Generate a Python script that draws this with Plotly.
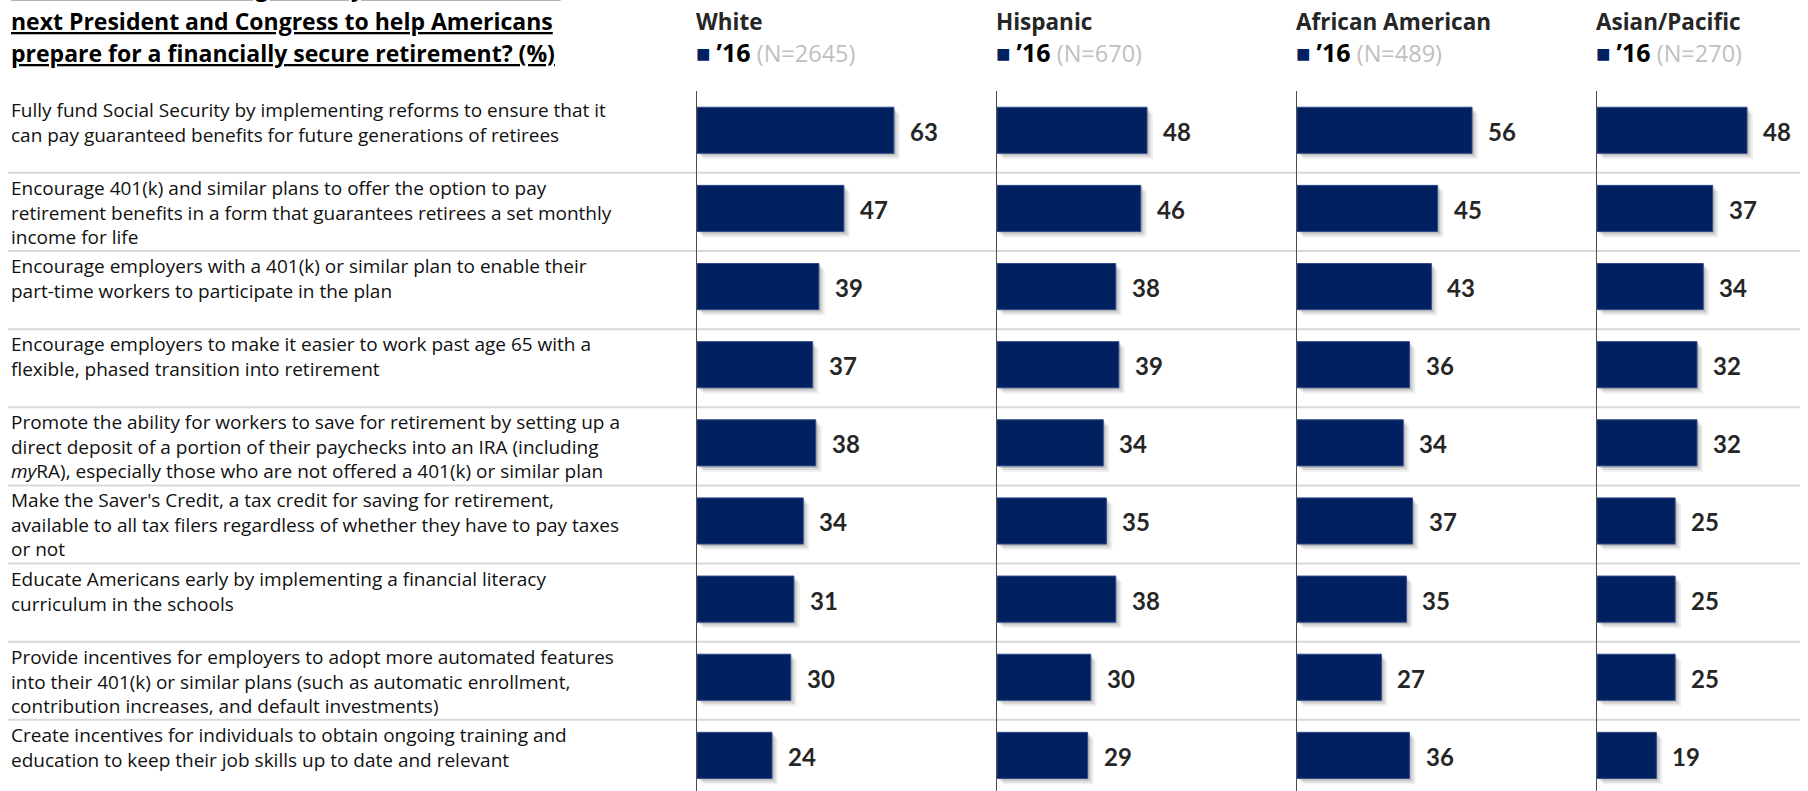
# ============================================================
# Retirement policy priorities by race/ethnicity - Plotly remake
# ============================================================

import plotly.graph_objects as go


# ============================================================
# Data
# ============================================================

categories = [
    "Fully fund Social Security by implementing reforms to ensure that it<br>"
    "can pay guaranteed benefits for future generations of retirees",
    "Encourage 401(k) and similar plans to offer the option to pay<br>"
    "retirement benefits in a form that guarantees retirees a set monthly<br>"
    "income for life",
    "Encourage employers with a 401(k) or similar plan to enable their<br>"
    "part-time workers to participate in the plan",
    "Encourage employers to make it easier to work past age 65 with a<br>"
    "flexible, phased transition into retirement",
    "Promote the ability for workers to save for retirement by setting up a<br>"
    "direct deposit of a portion of their paychecks into an IRA (including<br>"
    "<i>my</i>RA), especially those who are not offered a 401(k) or similar plan",
    "Make the Saver's Credit, a tax credit for saving for retirement,<br>"
    "available to all tax filers regardless of whether they have to pay taxes<br>"
    "or not",
    "Educate Americans early by implementing a financial literacy<br>"
    "curriculum in the schools",
    "Provide incentives for employers to adopt more automated features<br>"
    "into their 401(k) or similar plans (such as automatic enrollment,<br>"
    "contribution increases, and default investments)",
    "Create incentives for individuals to obtain ongoing training and<br>"
    "education to keep their job skills up to date and relevant",
]

groups = ["White", "Hispanic", "African American", "Asian/Pacific"]
sample_sizes = ["N=2645", "N=670", "N=489", "N=270"]
year_label = "\u201916"

white = [63, 47, 39, 37, 38, 34, 31, 30, 24]
hispanic = [48, 46, 38, 39, 34, 35, 38, 30, 29]
african_american = [56, 45, 43, 36, 34, 37, 35, 27, 36]
asian_pacific = [48, 37, 34, 32, 32, 25, 25, 25, 19]

# first line is cut by the top edge in the original slide
title_lines = [
    "Which of the following would you like to see the",
    "next President and Congress to help Americans",
    "prepare for a financially secure retirement? (%)",
]


# ============================================================
# Layout constants (pixels of the 1808x791 window)
# ============================================================

W, H = 1808, 791

FONT = "'Open Sans', Lato, Arial, sans-serif"
NUM_FONT = "Lato, 'Open Sans', Arial, sans-serif"
NAVY = "#002060"
TEXT = "#262626"

PX_PER_UNIT = 3.125          # bar length scale, identical in every panel
ROW_PX = 78.14               # row pitch
PANEL_X0 = [697, 997, 1297, 1597]
PANEL_RANGE = [90, 90, 90, 64]
AXIS_TOP = 91.2
BAR_WIDTH = 0.59
TITLE_LINE_Y = [-13, 21, 53]


def px_x(x):
    return x / W


def px_y(y):
    return 1 - y / H


series = [white, hispanic, african_american, asian_pacific]

fig = go.Figure()

# y range: row -0.5 sits at AXIS_TOP, window bottom cuts the last row
y_bottom = -0.5 + (H - AXIS_TOP) / ROW_PX
y_domain = [0, px_y(AXIS_TOP)]

for k, values in enumerate(series):
    suffix = "" if k == 0 else str(k + 1)
    xref = "x" + suffix
    yref = "y" + suffix

    # soft drop shadow, several faint layers
    for step, alpha in [(3, 0.06), (2, 0.09), (1, 0.13)]:
        shift_x = step * 2 / PX_PER_UNIT
        shift_y = step * 2 / ROW_PX
        fig.add_trace(
            go.Bar(
                x=values,
                y=categories,
                base=shift_x,
                orientation="h",
                width=BAR_WIDTH,
                offset=-BAR_WIDTH / 2 + shift_y,
                marker=dict(color=f"rgba(0,0,0,{alpha})", line=dict(width=0)),
                xaxis=xref,
                yaxis=yref,
                hoverinfo="skip",
                showlegend=False,
            )
        )

    fig.add_trace(
        go.Bar(
            x=values,
            y=categories,
            orientation="h",
            width=BAR_WIDTH,
            marker=dict(color=NAVY, line=dict(color="#2F4A8A", width=1)),
            xaxis=xref,
            yaxis=yref,
            name=groups[k],
            showlegend=False,
        )
    )

    # value labels
    for cat, v in zip(categories, values):
        fig.add_annotation(
            x=v,
            y=cat,
            xref=xref,
            yref=yref,
            text=f"<b>{v}</b>",
            showarrow=False,
            xanchor="left",
            yanchor="middle",
            xshift=14,
            yshift=-1,
            font=dict(family=NUM_FONT, size=24, color=TEXT),
        )

    x0 = PANEL_X0[k]
    x1 = x0 + PANEL_RANGE[k] * PX_PER_UNIT
    fig.update_layout(
        {
            "xaxis" + suffix: dict(
                domain=[px_x(x0), min(px_x(x1), 1)],
                range=[0, PANEL_RANGE[k]],
                anchor=yref,
                visible=False,
                fixedrange=True,
            ),
            "yaxis" + suffix: dict(
                domain=y_domain,
                range=[y_bottom, -0.5],
                anchor=xref,
                type="category",
                categoryorder="array",
                categoryarray=categories,
                showticklabels=False,
                ticks="",
                showgrid=False,
                zeroline=False,
                showline=True,
                linecolor="#4D4D4D",
                linewidth=1,
                fixedrange=True,
            ),
        }
    )

    # panel header
    fig.add_annotation(
        x=px_x(x0 - 3),
        y=px_y(21),
        xref="paper",
        yref="paper",
        text=f"<b>{groups[k]}</b>",
        showarrow=False,
        xanchor="left",
        yanchor="middle",
        font=dict(family=FONT, size=22.5, color=TEXT),
    )
    fig.add_annotation(
        x=px_x(x0 - 3),
        y=px_y(52),
        xref="paper",
        yref="paper",
        text=(
            f"<span style='color:{NAVY};font-size:24px'>\u25a0</span> "
            f"<b><span style='color:#000000;font-size:25px'>{year_label}</span></b> "
            f"<span style='color:#BFBFBF'>({sample_sizes[k]})</span>"
        ),
        showarrow=False,
        xanchor="left",
        yanchor="middle",
        font=dict(family=FONT, size=23.5, color=TEXT),
    )


# ============================================================
# Row labels and separators
# ============================================================

for i, cat in enumerate(categories):
    fig.add_annotation(
        x=px_x(9),
        y=i - 0.455,
        xref="paper",
        yref="y",
        text=cat,
        align="left",
        showarrow=False,
        xanchor="left",
        yanchor="top",
        yshift=0,
        font=dict(family=FONT, size=19, color="#111111"),
    )

for i in range(len(categories) - 1):
    fig.add_shape(
        type="line",
        xref="paper",
        yref="y",
        x0=px_x(8),
        x1=px_x(1800),
        y0=i + 0.545,
        y1=i + 0.545,
        line=dict(color="#D9D9D9", width=2),
        layer="below",
    )


# ============================================================
# Title, one annotation per line so the line pitch can be set
# ============================================================

for line, y in zip(title_lines, TITLE_LINE_Y):
    fig.add_annotation(
        x=px_x(9),
        y=px_y(y),
        xref="paper",
        yref="paper",
        text=f"<b><u>{line}</u></b>",
        align="left",
        showarrow=False,
        xanchor="left",
        yanchor="middle",
        font=dict(family=FONT, size=23, color="#000000"),
    )

fig.update_layout(
    width=W,
    height=H,
    barmode="overlay",
    paper_bgcolor="white",
    plot_bgcolor="rgba(0,0,0,0)",
    margin=dict(l=0, r=0, t=0, b=0),
    showlegend=False,
)

# drop the default page margin so the figure fills the window exactly
fig.write_html(
    "out.html",
    config={"displayModeBar": False},
    post_script="document.body.style.margin = '0px';",
)
